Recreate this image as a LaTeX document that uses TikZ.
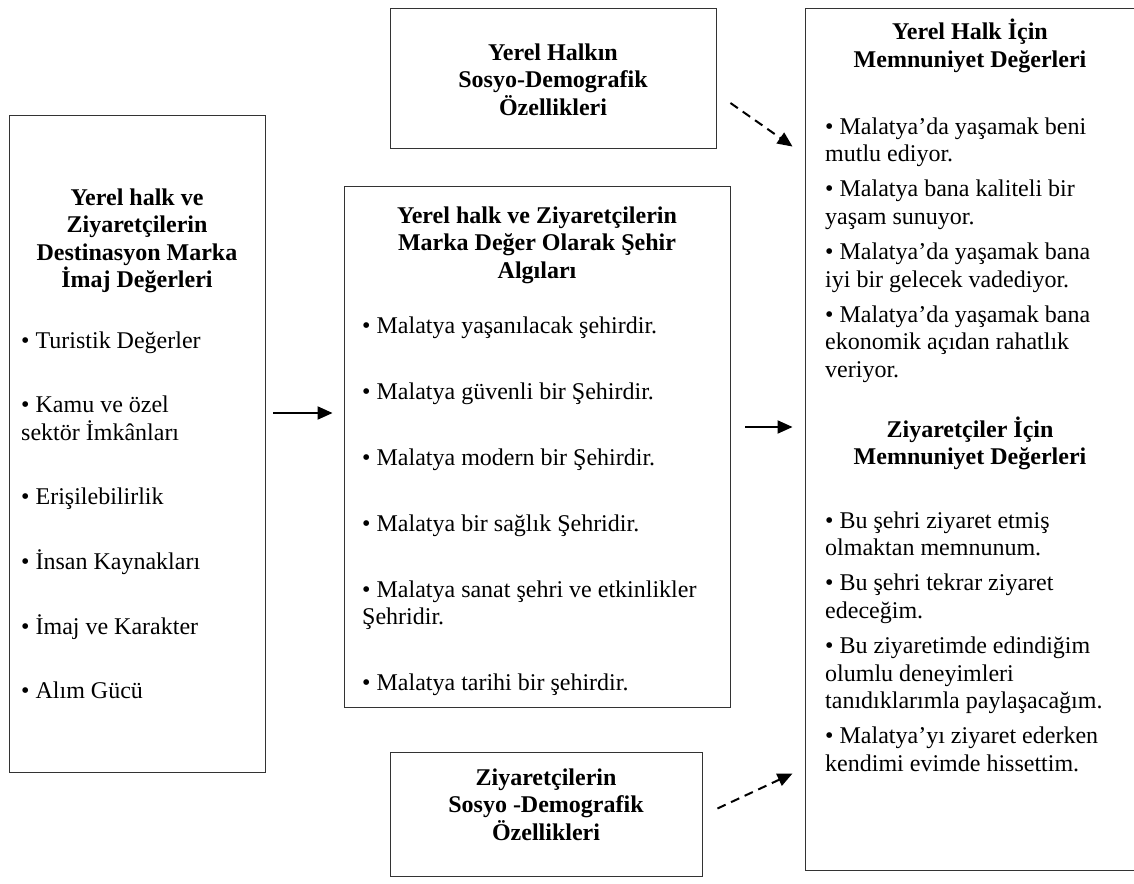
\documentclass[tikz,border=0pt]{standalone}
\usepackage{fontspec}
\setmainfont{Liberation Serif}
\usetikzlibrary{arrows.meta}
\tikzset{box/.style={draw=black!80,line width=0.9pt,inner sep=0pt},
         heading/.style={font=\fontsize{24}{27.6}\selectfont\bfseries,align=center,anchor=base,inner sep=0pt},
         items/.style={font=\fontsize{24}{27.6}\selectfont,align=left,anchor=base west,inner sep=0pt},
         arrow/.style={line width=2pt,-{Triangle[length=15pt,width=13pt]}},
         dasharrow/.style={arrow,dash pattern=on 9pt off 6pt}
         }

\begin{document}
\begin{tikzpicture}[x=1pt,y=-1pt]
\useasboundingbox (0,0) rectangle (1134,883);
\node[box,minimum width=256,minimum height=657] (imaj) at (137,443.5) {};
\node[box,minimum width=386,minimum height=521] (algi) at (537,446.5) {};
\node[box,minimum width=326,minimum height=140] (halk) at (553,78) {};
\node[box,minimum width=312,minimum height=124] (ziyaret) at (546,814) {};
\node[box,minimum width=331,minimum height=862] (memnun) at (970.5,439) {};

% multi-line nodes sit on the baseline of their last line
\node[heading] (imaj-baslik) at (137,287.8) {Yerel halk ve\\Ziyaretçilerin\\Destinasyon Marka\\İmaj Değerleri};
\node[items] (imaj-liste) at (21,698.6) {\textbullet\ Turistik Değerler\\[37pt]
  \textbullet\ Kamu ve özel\\sektör İmkânları\\[37pt]
  \textbullet\ Erişilebilirlik\\[37pt]
  \textbullet\ İnsan Kaynakları\\[37pt]
  \textbullet\ İmaj ve Karakter\\[37pt]
  \textbullet\ Alım Gücü};

\node[heading] (algi-baslik) at (537,278.2) {Yerel halk ve Ziyaretçilerin\\Marka Değer Olarak Şehir\\Algıları};
\node[items] (algi-liste) at (362,690.6) {\textbullet\ Malatya yaşanılacak şehirdir.\\[38.4pt]
  \textbullet\ Malatya güvenli bir Şehirdir.\\[38.4pt]
  \textbullet\ Malatya modern bir Şehirdir.\\[38.4pt]
  \textbullet\ Malatya bir sağlık Şehridir.\\[38.4pt]
  \textbullet\ Malatya sanat şehri ve etkinlikler\\Şehridir.\\[38.4pt]
  \textbullet\ Malatya tarihi bir şehirdir.};

\node[heading] (halk-baslik) at (553,115.2) {Yerel Halkın\\Sosyo-Demografik\\Özellikleri};
\node[heading] (ziyaret-baslik) at (546,840.2) {Ziyaretçilerin\\Sosyo -Demografik\\Özellikleri};

\node[heading] (halk-memnun) at (970,67.6) {Yerel Halk İçin\\Memnuniyet Değerleri};
\node[items] (halk-liste) at (825,377.3) {\textbullet\ Malatya’da yaşamak beni\\mutlu ediyor.\\[7.5pt]
  \textbullet\ Malatya bana kaliteli bir\\yaşam sunuyor.\\[7.5pt]
  \textbullet\ Malatya’da yaşamak bana\\iyi bir gelecek vadediyor.\\[7.5pt]
  \textbullet\ Malatya’da yaşamak bana\\ekonomik açıdan rahatlık\\veriyor.};
\node[heading] (ziyaret-memnun) at (970,464.6) {Ziyaretçiler İçin\\Memnuniyet Değerleri};
\node[items] (ziyaret-liste) at (825,771.3) {\textbullet\ Bu şehri ziyaret etmiş\\olmaktan memnunum.\\[7.5pt]
  \textbullet\ Bu şehri tekrar ziyaret\\edeceğim.\\[7.5pt]
  \textbullet\ Bu ziyaretimde edindiğim\\olumlu deneyimleri\\tanıdıklarımla paylaşacağım.\\[7.5pt]
  \textbullet\ Malatya’yı ziyaret ederken\\kendimi evimde hissettim.};

\draw[arrow] ([xshift=8pt,yshift=30.5pt]imaj.east) -- ([xshift=-11pt,yshift=33.5pt]algi.west);
\draw[arrow] ([xshift=15pt,yshift=19.5pt]algi.east) -- ([xshift=-12pt,yshift=12pt]memnun.west);
\draw[dasharrow] ([xshift=14pt,yshift=-25pt]halk.east) -- ([xshift=-12pt,yshift=-139pt]memnun.north west);
\draw[dasharrow] ([xshift=15pt,yshift=5.5pt]ziyaret.east) -- ([xshift=-12pt,yshift=97pt]memnun.south west);
\end{tikzpicture}
\end{document}
